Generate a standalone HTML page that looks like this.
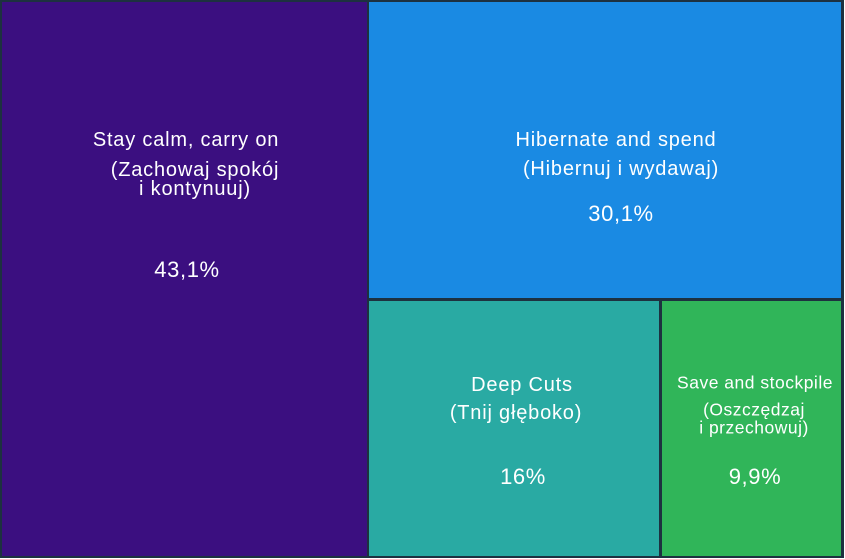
<!DOCTYPE html>
<html><head><meta charset="utf-8"><style>
html,body{margin:0;padding:0;background:#fff;}
#c{position:relative;width:845px;height:559px;overflow:hidden;font-family:"Liberation Sans",sans-serif;color:#fff;}
.r{position:absolute;box-sizing:border-box;}
.t{position:absolute;transform:translate(-50%,-50%);white-space:nowrap;font-size:20px;letter-spacing:0.8px;line-height:1;}
.p{font-size:22px;letter-spacing:0.6px;}
.s{font-size:17.5px;letter-spacing:0.5px;}
</style></head><body><div id="c">
<div class="r" style="left:0;top:0;width:844px;height:558px;background:#1d3140;"></div>
<div class="r" style="left:2px;top:2px;width:365px;height:554px;background:#3b0f80;"></div>
<div class="r" style="left:369px;top:2px;width:472px;height:296px;background:#1a8ae3;"></div>
<div class="r" style="left:369px;top:301px;width:290px;height:255px;background:#29aaa3;"></div>
<div class="r" style="left:662px;top:301px;width:179px;height:255px;background:#30b559;"></div>

<div class="t" style="left:186px;top:140px">Stay calm, carry on</div>
<div class="t" style="left:195px;top:170px">(Zachowaj spokój</div>
<div class="t" style="left:195px;top:189px">i kontynuuj)</div>
<div class="t p" style="left:187px;top:270px">43,1%</div>

<div class="t" style="left:616px;top:140px">Hibernate and spend</div>
<div class="t" style="left:621px;top:169px">(Hibernuj i wydawaj)</div>
<div class="t p" style="left:621px;top:214px">30,1%</div>

<div class="t" style="left:522px;top:385px">Deep Cuts</div>
<div class="t" style="left:516px;top:413px">(Tnij głęboko)</div>
<div class="t p" style="left:523px;top:477px">16%</div>

<div class="t s" style="left:755px;top:383px">Save and stockpile</div>
<div class="t s" style="left:754px;top:410px">(Oszczędzaj</div>
<div class="t s" style="left:754px;top:428px">i przechowuj)</div>
<div class="t p" style="left:755px;top:477px">9,9%</div>
</div></body></html>
